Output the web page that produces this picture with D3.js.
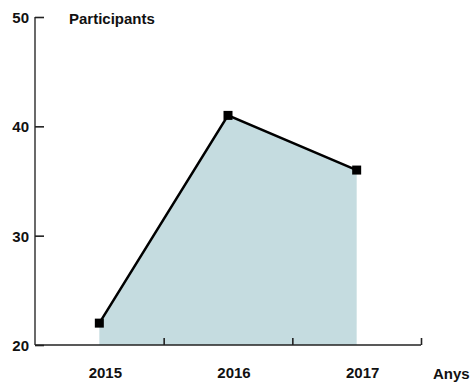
<!DOCTYPE html>
<html><head><meta charset="utf-8">
<script src="https://cdn.jsdelivr.net/npm/d3@7"></script>
<style>body{margin:0;background:#fff}svg{display:block}text{font-family:"Liberation Sans",Arial,sans-serif;font-weight:bold;fill:#111}</style>
</head><body>
<script>
const years = ["2015","2016","2017"];
const participants = [22, 41, 36];
const yTicks = [20, 30, 40, 50];

const W = 472, H = 383;
const svg = d3.select("body").append("svg").attr("width", W).attr("height", H);
const x = d3.scaleBand().domain(years).range([35, 421]);
const y = d3.scaleLinear().domain([20, 50]).range([345, 17]);
const data = years.map((k, i) => ({year: k, v: participants[i]}));
const cx = d => x(d.year) + x.bandwidth() / 2;

svg.append("path").datum(data)
  .attr("d", d3.area().x(cx).y0(y(20)).y1(d => y(d.v)))
  .attr("fill", "#c5dce0");
svg.append("path").datum(data)
  .attr("d", d3.line().x(cx).y(d => y(d.v)))
  .attr("fill", "none").attr("stroke", "#000").attr("stroke-width", 2.5);
svg.selectAll("rect.pt").data(data).enter().append("rect")
  .attr("x", d => cx(d) - 4.5).attr("y", d => y(d.v) - 4.5)
  .attr("width", 9).attr("height", 9).attr("fill", "#000");

// y axis
const yAxis = svg.append("g").attr("transform", "translate(35,0)")
  .call(d3.axisRight(y).tickValues(yTicks).tickSize(9).tickFormat(""));
yAxis.select(".domain").attr("stroke", "#444").attr("stroke-width", 1.6).attr("d", `M0,${y(50)}V${y(20)}`);
yAxis.selectAll(".tick line").attr("stroke", "#222").attr("stroke-width", 1.6);
svg.selectAll("text.yl").data(yTicks).enter().append("text")
  .attr("x", 29).attr("y", d => y(d) + 6).attr("text-anchor", "end")
  .attr("font-size", 15).text(d => d);

// x axis
const xb = d3.scaleLinear().domain([0, 3]).range([35, 421]);
const xAxis = svg.append("g").attr("transform", "translate(0,345)")
  .call(d3.axisTop(xb).tickValues([1, 2, 3]).tickSize(7).tickFormat(""));
xAxis.select(".domain").attr("stroke", "#222").attr("stroke-width", 1.6).attr("d", "M35,0H421");
xAxis.selectAll(".tick line").attr("stroke", "#222").attr("stroke-width", 1.6);
svg.selectAll("text.xl").data(years).enter().append("text")
  .attr("x", d => x(d) + x.bandwidth() / 2 + 6).attr("y", 378).attr("text-anchor", "middle")
  .attr("font-size", 15).text(d => d);

svg.append("text").attr("x", 433).attr("y", 379).attr("font-size", 15).text("Anys");
svg.append("text").attr("x", 69).attr("y", 24).attr("font-size", 15).text("Participants");
</script>
</body></html>
